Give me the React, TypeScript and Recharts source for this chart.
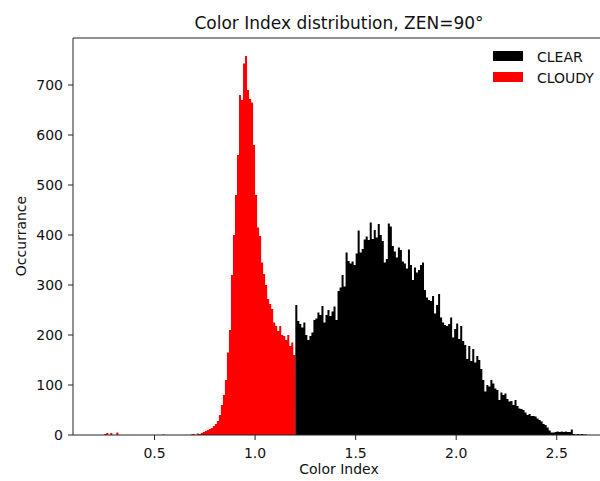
import React from 'react';
import { AreaChart, Area, XAxis, YAxis, ReferenceLine } from 'recharts';

// histogram bins: left edge of first bin and bin width
const binStart = 0.2;
const binWidth = 0.01;

// CLOUDY counts, bins 0.20 .. 1.19
const cloudyCounts = [
  0, 0, 0, 0, 0, 2, 4, 0, 4, 0,
  0, 5, 0, 0, 0, 0, 0, 0, 0, 0,
  0, 0, 0, 0, 0, 0, 0, 0, 0, 0,
  0, 0, 0, 0, 1, 0, 0, 0, 0, 0,
  0, 0, 0, 0, 0, 0, 0, 0, 1, 2,
  0, 3, 2, 4, 6, 8, 10, 12, 14, 18,
  22, 28, 40, 60, 80, 110, 165, 210, 320, 400,
  480, 560, 680, 670, 743, 758, 690, 672, 665, 580,
  480, 415, 398, 345, 322, 300, 272, 262, 252, 225,
  218, 208, 218, 200, 198, 190, 200, 178, 185, 160,
];

// CLEAR counts, bins 1.20 .. 2.65
const clearCounts = [
  260, 228, 222, 215, 225, 200, 190, 198, 205, 230,
  233, 245, 240, 258, 225, 240, 250, 238, 247, 257,
  230, 288, 295, 320, 297, 365, 348, 343, 347, 340,
  363, 409, 365, 372, 391, 397, 390, 425, 392, 410,
  395, 422, 400, 388, 345, 352, 423, 417, 378, 367,
  355, 375, 370, 347, 343, 333, 371, 340, 310, 335,
  325, 330, 340, 345, 290, 275, 270, 268, 278, 243,
  260, 282, 235, 225, 220, 218, 222, 235, 195, 212,
  223, 192, 218, 188, 180, 152, 178, 148, 172, 145,
  158, 150, 132, 110, 87, 100, 97, 110, 103, 93,
  90, 70, 85, 80, 83, 72, 67, 68, 60, 70,
  58, 53, 52, 50, 45, 40, 42, 38, 38, 37,
  33, 30, 27, 22, 20, 15, 9, 5, 5, 6,
  7, 6, 7, 6, 7, 6, 6, 11, 2, 1,
  2, 1, 2, 1, 1, 0,
];

const xTicks = [0.5, 1.0, 1.5, 2.0, 2.5];
const yTicks = [0, 100, 200, 300, 400, 500, 600, 700];
const xDomain = [0.0945, 2.74];
const yDomain = [0, 794];

const legendItems = [
  { label: 'CLEAR', color: '#000000' },
  { label: 'CLOUDY', color: '#ff0000' },
];

const nBins = cloudyCounts.length + clearCounts.length;
const data: { edge: number; cloudy: number | null; clear: number | null }[] = [];
for (let k = 0; k <= nBins; k++) {
  const c = k - cloudyCounts.length;
  data.push({
    edge: Math.round((binStart + k * binWidth) * 1000) / 1000,
    cloudy: k < cloudyCounts.length ? cloudyCounts[k] : k === cloudyCounts.length ? 0 : null,
    clear: c < 0 ? null : c < clearCounts.length ? clearCounts[c] : 0,
  });
}

const font = "'DejaVu Sans', sans-serif";
const tickStyle = { fontSize: 14, fill: '#111', fontFamily: font };

export default function App() {
  return (
    <div
      style={{
        position: 'absolute',
        left: 0,
        top: 0,
        width: 600,
        height: 481,
        overflow: 'hidden',
        background: '#fff',
      }}
    >
      <AreaChart width={620} height={481} data={data} margin={{ top: 38, right: 15, bottom: 0, left: 0 }}>
        <XAxis
          dataKey="edge"
          type="number"
          domain={xDomain}
          allowDataOverflow
          ticks={xTicks}
          tickFormatter={(v: number) => v.toFixed(1)}
          tick={tickStyle}
          tickSize={5}
          tickMargin={8}
          height={46}
          stroke="#222"
        />
        <YAxis
          domain={yDomain}
          allowDataOverflow
          ticks={yTicks}
          tick={tickStyle}
          tickSize={5}
          tickMargin={5}
          width={73}
          stroke="#222"
        />
        <Area
          type="stepAfter"
          dataKey="cloudy"
          stroke="none"
          fill="#ff0000"
          fillOpacity={1}
          dot={false}
          activeDot={false}
          isAnimationActive={false}
        />
        <Area
          type="stepAfter"
          dataKey="clear"
          stroke="none"
          fill="#000000"
          fillOpacity={1}
          dot={false}
          activeDot={false}
          isAnimationActive={false}
        />
        {/* top spine of the frame */}
        <ReferenceLine y={yDomain[1]} stroke="#222" strokeWidth={1} ifOverflow="visible" />
      </AreaChart>

      <svg
        width={600}
        height={481}
        style={{ position: 'absolute', left: 0, top: 0, pointerEvents: 'none' }}
        fontFamily={font}
      >
        <text x={339} y={29} textAnchor="middle" fontSize={17} fill="#111">
          Color Index distribution, ZEN=90°
        </text>
        <text x={339} y={474} textAnchor="middle" fontSize={14} fill="#111">
          Color Index
        </text>
        <text x={26} y={236} textAnchor="middle" fontSize={14} fill="#111" transform="rotate(-90 26 236)">
          Occurrance
        </text>
        {legendItems.map((item, i) => (
          <g key={item.label}>
            <rect x={493} y={51 + i * 21} width={30} height={10} fill={item.color} />
            <text x={537} y={62 + i * 21} fontSize={14} fill="#111">
              {item.label}
            </text>
          </g>
        ))}
      </svg>
    </div>
  );
}
